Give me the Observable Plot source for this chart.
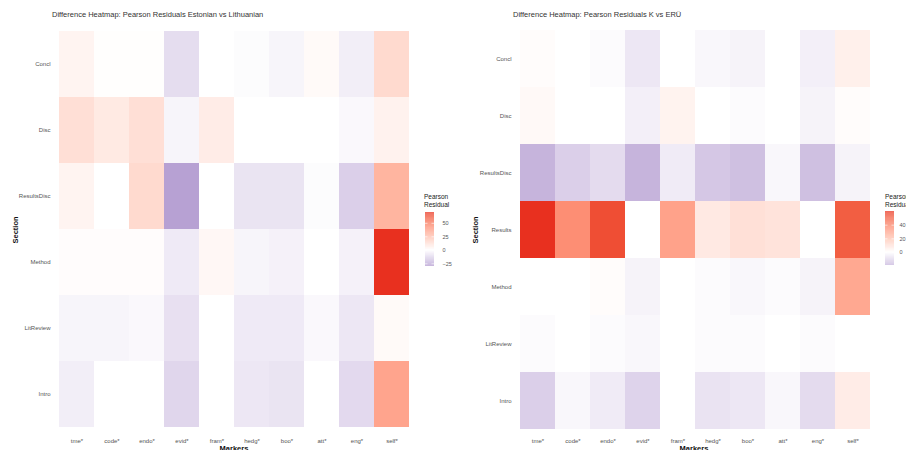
<!DOCTYPE html>
<html>
<head>
<meta charset="utf-8">
<script src="https://cdn.jsdelivr.net/npm/d3@7"></script>
<script src="https://cdn.jsdelivr.net/npm/@observablehq/plot@0.6"></script>
<style>
  html, body { margin: 0; padding: 0; background: #ffffff; }
  #root { position: relative; width: 906px; height: 450px; overflow: hidden; font-family: "Liberation Sans", Arial, sans-serif; }
  .abs { position: absolute; white-space: nowrap; }
  .title { font-size: 7.5px; color: #333; }
  .axt { font-size: 7.5px; color: #111; font-weight: bold; }
  .legt { font-size: 6.5px; color: #222; line-height: 8px; }
</style>
</head>
<body>
<div id="root"></div>
<script>
// ---- data ----
const markers = ["tme*", "code*", "endo*", "evid*", "fram*", "hedg*", "boo*", "att*", "eng*", "self*"];

const sectionsA = ["Concl", "Disc", "ResultsDisc", "Method", "LitReview", "Intro"];
const valuesA = [
  [4, 0.5, 0.5, -10, 0, -1, -3, 2, -5, 14],
  [12, 8, 12, -3, 7, 0, 0, 0, -2, 5],
  [4, 0, 14, -28, 0, -8, -8, -1, -14, 28],
  [1, 1, 1, -6, 3, -3, -4, 0, -4, 70],
  [-3, -3, -2, -9, 0, -6, -6, -2, -7, 2],
  [-5, 0, 0, -12, 0, -7, -8, 0, -11, 34]
];
const legendTicksA = [50, 25, 0, -25];
const rangeA = [-30, 70];

const sectionsB = ["Concl", "Disc", "ResultsDisc", "Results", "Method", "LitReview", "Intro"];
const valuesB = [
  [1, 0, -1, -6, 0, -2, -3, 0, -4, 5],
  [2, 0, 0, -4, 4, 0, -1, 0, -3, 1],
  [-19, -12, -9, -19, -5, -14, -16, -2, -16, -3],
  [60, 36, 54, 0, 30, 7, 10, 9, 0, 50],
  [0, 0, 1, -3, 0, -1, -2, -1, -3, 28],
  [-1, 0, -1, -2, 0, -1, -1, 0, -1, 0],
  [-12, -2, -5, -11, 0, -7, -6, -2, -9, 6]
];
const legendTicksB = [40, 20, 0];
const rangeB = [-19, 60];

const titleA = "Difference Heatmap: Pearson Residuals Estonian vs Lithuanian";
const titleB = "Difference Heatmap: Pearson Residuals K vs ERÜ";

// ---- styling ----
const LOW = "#45208f", MID = "#ffffff", HIGH = "#e8301f";
const FONT = "Liberation Sans, Arial, sans-serif";
const root = document.getElementById("root");

// midpoint-centred diverging scale (symmetric around 0, like rescale_mid)
function colorSpec(range) {
  const m = Math.max(Math.abs(range[0]), Math.abs(range[1]));
  return { type: "linear", domain: [-m, 0, m], range: [LOW, MID, HIGH], interpolate: "lab" };
}

function addText(cls, text, left, top, extra) {
  const d = document.createElement("div");
  d.className = "abs " + cls;
  d.textContent = text;
  d.style.left = left + "px";
  d.style.top = top + "px";
  if (extra) Object.assign(d.style, extra);
  root.appendChild(d);
  return d;
}

function heat(sections, values, range, ml, mr) {
  const data = sections.flatMap((s, i) => markers.map((m, j) => ({ section: s, marker: m, value: values[i][j] })));
  return Plot.plot({
    width: 453, height: 450,
    marginLeft: ml, marginRight: mr, marginTop: 29, marginBottom: 21,
    style: { fontFamily: FONT, fontSize: "6px", background: "transparent", color: "#4d4d4d" },
    x: { domain: markers, padding: 0, axis: null },
    y: { domain: sections, padding: 0, axis: null },
    color: colorSpec(range),
    marks: [
      Plot.cell(data, { x: "marker", y: "section", fill: "value", inset: 0 }),
      Plot.axisX({ anchor: "bottom", tickSize: 0, tickPadding: 9, label: null, fill: "#555", fontSize: 6 }),
      Plot.axisY({ anchor: "left", tickSize: 0, tickPadding: 6, label: null, fill: "#555", fontSize: 6 })
    ]
  });
}

function legend(range, ticks, pad) {
  const n = 120;
  const step = (range[1] - range[0]) / n;
  const strips = d3.range(n).map(i => ({ lo: range[0] + i * step, hi: range[0] + (i + 1) * step, v: range[0] + (i + 0.5) * step }));
  return Plot.plot({
    width: 40, height: 54,
    marginLeft: 0, marginRight: 31, marginTop: 0, marginBottom: 0,
    style: { fontFamily: FONT, fontSize: "5.5px", background: "transparent", overflow: "visible", color: "#555" },
    x: { domain: [0, 1], axis: null },
    y: { domain: range, axis: null },
    color: colorSpec(range),
    marks: [
      Plot.rect(strips, { x1: 0, x2: 1, y1: "lo", y2: "hi", fill: "v" }),
      Plot.tickY(ticks, { y: d => d, stroke: "white", strokeWidth: 0.6, inset: 0, insetRight: 6.5 }),
      Plot.tickY(ticks, { y: d => d, stroke: "white", strokeWidth: 0.6, inset: 0, insetLeft: 6.5 }),
      Plot.axisY(ticks, { anchor: "right", tickSize: 0, tickPadding: pad, label: null, fill: "#555", fontSize: 5.5 })
    ]
  });
}

function place(el, left, top) {
  el.style.position = "absolute";
  el.style.left = left + "px";
  el.style.top = top + "px";
  root.appendChild(el);
}

// Left panel
place(heat(sectionsA, valuesA, rangeA, 56, 41), 0, 0);
addText("title", titleA, 52, 10);
addText("axt", "Markers", 234, 444, { transform: "translateX(-50%)" });
addText("axt", "Section", 15, 230, { transform: "translate(-50%, -50%) rotate(-90deg)" });
addText("legt", "Pearson\nResidual", 424, 193, { whiteSpace: "pre" });
place(legend(rangeA, legendTicksA, 8), 425, 212);

// Right panel
place(heat(sectionsB, valuesB, rangeB, 64, 34), 453, 0);
addText("title", titleB, 513, 10);
addText("axt", "Markers", 694, 444, { transform: "translateX(-50%)" });
addText("axt", "Section", 475, 230, { transform: "translate(-50%, -50%) rotate(-90deg)" });
addText("legt", "Pearson\nResidual", 885, 193, { whiteSpace: "pre" });
place(legend(rangeB, legendTicksB, 5), 885, 211);
</script>
</body>
</html>
